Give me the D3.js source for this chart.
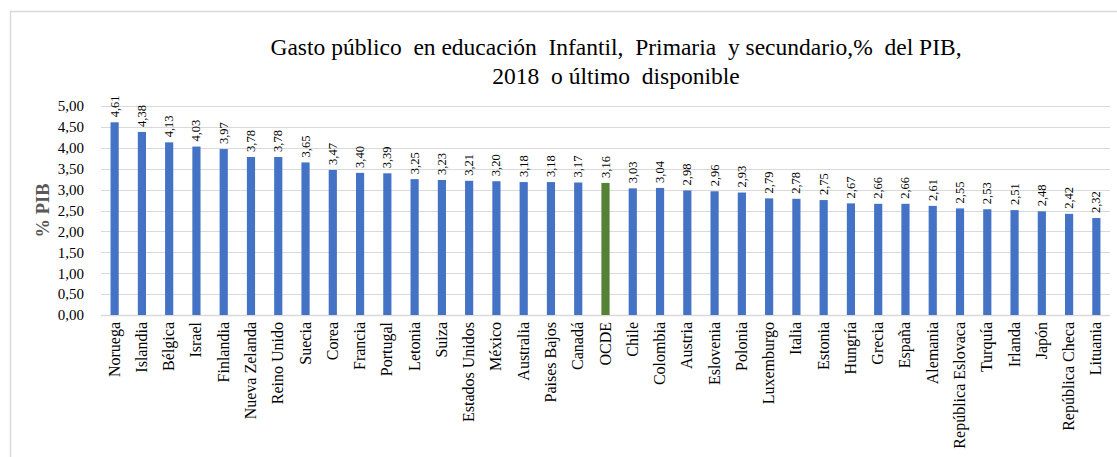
<!DOCTYPE html>
<html>
<head>
<meta charset="utf-8">
<script src="https://cdn.jsdelivr.net/npm/d3@7"></script>
<style>
  body { margin: 0; background: #fff; }
</style>
</head>
<body>
<svg id="chart" width="1117" height="457"></svg>
<script>
// data
const countries = ["Noruega", "Islandia", "Bélgica", "Israel", "Finlandia", "Nueva Zelanda",
    "Reino Unido", "Suecia", "Corea", "Francia", "Portugal", "Letonia", "Suiza",
    "Estados Unidos", "México", "Australia", "Paises Bajos", "Canadá", "OCDE", "Chile",
    "Colombia", "Austria", "Eslovenia", "Polonia", "Luxemburgo", "Italia", "Estonia",
    "Hungría", "Grecia", "España", "Alemania", "República Eslovaca", "Turquía", "Irlanda",
    "Japón", "República Checa", "Lituania"];
const gasto = [4.61, 4.38, 4.13, 4.03, 3.97, 3.78, 3.78, 3.65, 3.47, 3.40, 3.39, 3.25, 3.23,
    3.21, 3.20, 3.18, 3.18, 3.17, 3.16, 3.03, 3.04, 2.98, 2.96, 2.93, 2.79, 2.78, 2.75,
    2.67, 2.66, 2.66, 2.61, 2.55, 2.53, 2.51, 2.48, 2.42, 2.32];
const yTicks = [0, 0.5, 1, 1.5, 2, 2.5, 3, 3.5, 4, 4.5, 5];
const titleLines = ["Gasto público  en educación  Infantil,  Primaria  y secundario,%  del PIB,",
    "2018  o último  disponible"];
const highlight = "OCDE";

const data = countries.map(function (c, i) {
    return { pais: c, valor: gasto[i] };
});

const serif = "'Liberation Serif', 'Times New Roman', 'DejaVu Serif', serif";
const svg = d3.select("#chart").style("font-family", serif);
const fmt = function (v) { return d3.format(".2f")(v).replace(".", ","); };

// frame
svg.append("path")
    .attr("d", "M10.5,457 V11.5 H1117")
    .attr("fill", "none")
    .attr("stroke", "#d9d9d9")
    .attr("stroke-width", 1.5);

const plotLeft = 101, plotRight = 1110, plotTop = 106, plotBottom = 315;

const x = d3.scaleBand()
    .domain(countries)
    .range([plotLeft, plotRight])
    .paddingInner(0.7)
    .paddingOuter(0.35);

const y = d3.scaleLinear()
    .domain([0, 5])
    .range([plotBottom, plotTop]);

// gridlines
svg.append("g")
    .selectAll("line")
    .data(yTicks)
    .enter().append("line")
    .attr("x1", plotLeft)
    .attr("x2", plotRight)
    .attr("y1", function (d) { return Math.round(y(d)) + 0.5; })
    .attr("y2", function (d) { return Math.round(y(d)) + 0.5; })
    .attr("stroke", "#d9d9d9")
    .attr("stroke-width", function (d) { return d === 0 ? 1.5 : 1; });

// y axis labels
const yAxis = d3.axisLeft(y).tickValues(yTicks).tickFormat(fmt).tickSize(0).tickPadding(17);
const gy = svg.append("g")
    .attr("transform", "translate(" + plotLeft + ",0)")
    .call(yAxis)
    .attr("font-family", null)
    .attr("font-size", null);
gy.select(".domain").remove();
gy.selectAll("text")
    .style("font-family", serif)
    .style("font-size", "15px")
    .attr("fill", "#000");

// bars
svg.append("g")
    .selectAll("rect")
    .data(data)
    .enter().append("rect")
    .attr("x", function (d) { return x(d.pais); })
    .attr("y", function (d) { return y(d.valor); })
    .attr("width", x.bandwidth())
    .attr("height", function (d) { return y(0) - y(d.valor); })
    .attr("fill", function (d) { return d.pais === highlight ? "#548235" : "#4472c4"; });

// value labels
svg.append("g")
    .selectAll("text")
    .data(data)
    .enter().append("text")
    .attr("transform", function (d) {
        return "translate(" + (x(d.pais) + x.bandwidth() / 2 + 4) + "," + (y(d.valor) - 5) + ") rotate(-90)";
    })
    .attr("text-anchor", "start")
    .style("font-family", serif)
    .style("font-size", "12.5px")
    .text(function (d) { return fmt(d.valor); });

// category labels
svg.append("g")
    .selectAll("text")
    .data(data)
    .enter().append("text")
    .attr("transform", function (d) {
        return "translate(" + (x(d.pais) + x.bandwidth() / 2 + 5) + "," + (plotBottom + 7) + ") rotate(-90)";
    })
    .attr("text-anchor", "end")
    .style("font-family", serif)
    .style("font-size", "16px")
    .text(function (d) { return d.pais; });

// y axis title
svg.append("text")
    .attr("transform", "translate(49," + ((plotTop + plotBottom) / 2) + ") rotate(-90)")
    .attr("text-anchor", "middle")
    .style("font-family", serif)
    .style("font-size", "18.5px")
    .style("font-weight", "bold")
    .attr("fill", "#595959")
    .text("% PIB");

// title
svg.append("g")
    .selectAll("text")
    .data(titleLines)
    .enter().append("text")
    .attr("x", 616)
    .attr("y", function (d, i) { return 55 + i * 29; })
    .attr("text-anchor", "middle")
    .style("font-family", serif)
    .style("font-size", "23.5px")
    .style("white-space", "pre")
    .text(function (d) { return d; });
</script>
</body>
</html>
